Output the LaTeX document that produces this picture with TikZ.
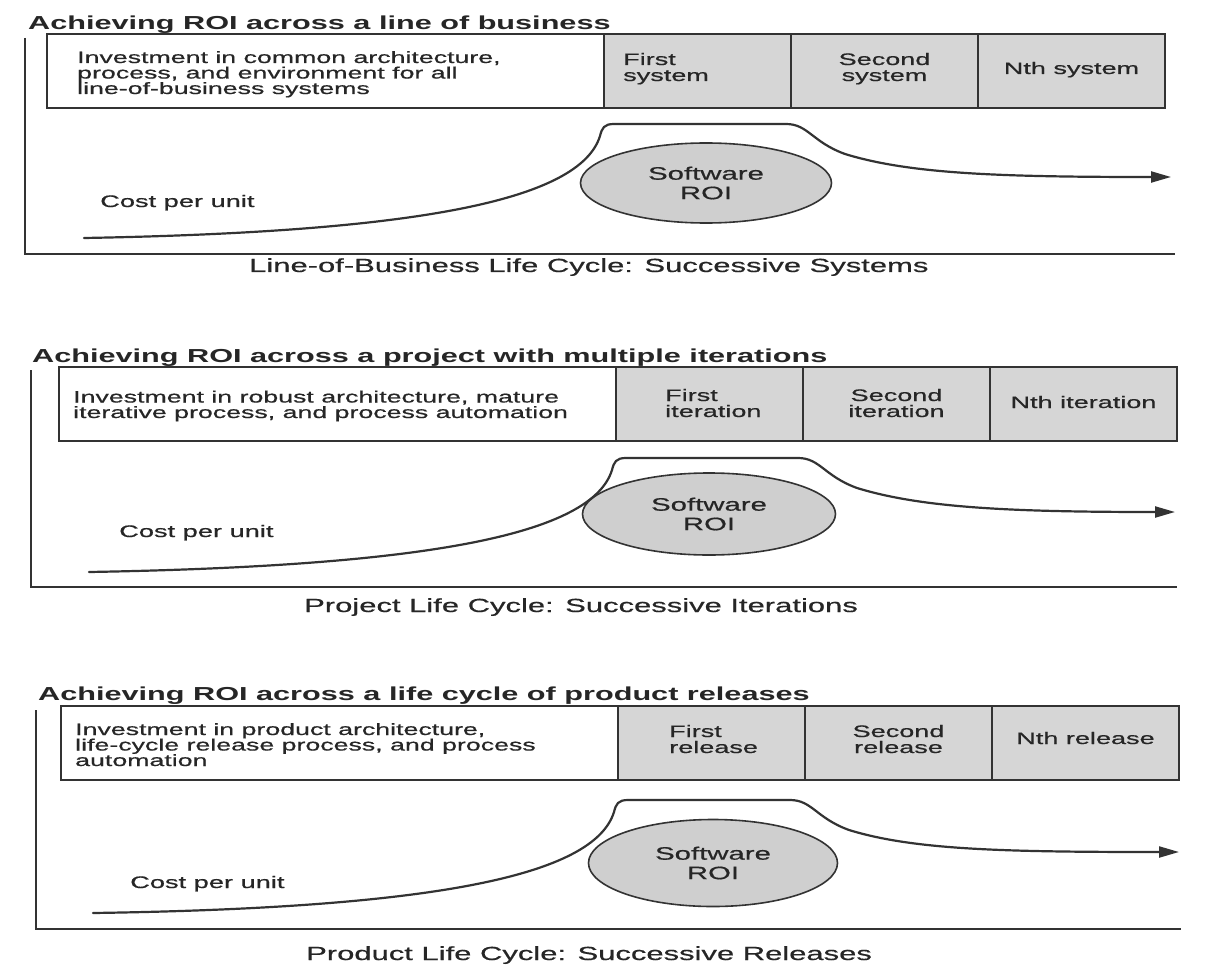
\documentclass[tikz,border=0pt]{standalone}
\usepackage{fontspec}
\setmainfont[FakeStretch=1.63, UprightFeatures={FakeBold=0.6}]{Liberation Sans}
\usetikzlibrary{shapes.geometric,arrows.meta}
\definecolor{ink}{HTML}{262626}
\definecolor{rule}{HTML}{333333}
\definecolor{cellgray}{HTML}{D6D6D6}
\definecolor{ellgray}{HTML}{CFCFCF}
% multi-line nodes are anchored at the baseline of their last line
\tikzset{
  ttl/.style={font={\bfseries\fontsize{18.8}{20}\selectfont}, anchor=base west, inner sep=0pt, text=ink},
  bodytxt/.style={font={\fontsize{16.4}{15.5}\selectfont\lineskiplimit-20pt}, align=left, anchor=base west, inner sep=0pt, text=ink},
  celltxt/.style={font={\fontsize{16.6}{16}\selectfont\lineskiplimit-20pt}, inner sep=0pt, text=ink},
  costtxt/.style={font={\fontsize{16.7}{18}\selectfont}, anchor=base west, inner sep=0pt, text=ink},
  captxt/.style={font={\fontsize{19}{20}\selectfont}, anchor=base west, inner sep=0pt, text=ink},
  invbox/.style={draw=rule, line width=1.6pt, fill=white},
  phasebox/.style={draw=rule, line width=1.6pt, fill=cellgray},
  roiell/.style={ellipse, draw=rule, line width=1.6pt, fill=ellgray, inner sep=0pt,
     align=center, text=ink, font={\fontsize{18}{19.5}\selectfont\lineskiplimit-20pt}},
  axes/.style={draw=rule, line width=1.7pt},
  costcurve/.style={draw=rule, line width=2.2pt, line cap=round,
     -{Triangle[length=20pt,width=11pt]}}
}
\begin{document}
\begin{tikzpicture}[x=1pt,y=-1pt]
\useasboundingbox[fill=white] (0,0) rectangle (1217,968);

% ---------- Line of business ----------
\node[ttl] (t1) at (28,30) {Achieving ROI across a line of business};
\draw[axes] (25,38) |- (1175,254);
\draw[invbox] (47,34) rectangle (604,108);
\draw[phasebox] (604,34) rectangle (791,108);
\draw[phasebox] (791,34) rectangle (978,108);
\draw[phasebox] (978,34) rectangle (1165,108);
\node[bodytxt] (i1) at (77,94) {Investment in common architecture,\\process, and environment for all\\line-of-business systems};
\node[celltxt, anchor=base west, align=left] (a1) at (623,81) {First\\system};
\node[celltxt, anchor=base, align=center] (b1) at (884.5,81) {Second\\system};
\node[celltxt, anchor=base] (n1) at (1071.5,74) {Nth system};
\node[costtxt] (k1) at (100,207) {Cost per unit};
\node[roiell, minimum width=251pt, minimum height=80pt] (r1) at (706,183) {Software\\ROI};
\coordinate (s1) at (84,238);
\coordinate (e1) at (1171,177);
\draw[costcurve] (s1) .. controls (420,232) and (580,200) .. (600,136)
   .. controls (602,128) and (604,124) .. (614,124) -- (786,124)
   .. controls (808,124) and (812,142) .. (845,154)
   .. controls (910,174) and (1000,177) .. (e1);
\node[captxt] (c1) at (249,272) {Line-of-Business Life Cycle: Successive Systems};

% ---------- Project with iterations ----------
\node[ttl] (t2) at (32,362) {Achieving ROI across a project with multiple iterations};
\draw[axes] (31,370) |- (1177,587);
\draw[invbox] (59,367) rectangle (616,441);
\draw[phasebox] (616,367) rectangle (803,441);
\draw[phasebox] (803,367) rectangle (990,441);
\draw[phasebox] (990,367) rectangle (1177,441);
\node[bodytxt] (i2) at (73,418) {Investment in robust architecture, mature\\iterative process, and process automation};
\node[celltxt, anchor=base west, align=left] (a2) at (665,417) {First\\iteration};
\node[celltxt, anchor=base, align=center] (b2) at (896.5,417) {Second\\iteration};
\node[celltxt, anchor=base] (n2) at (1083.5,408) {Nth iteration};
\node[costtxt] (k2) at (119,537) {Cost per unit};
\node[roiell, minimum width=253pt, minimum height=82pt] (r2) at (709,514) {Software\\ROI};
\coordinate (s2) at (89,572);
\coordinate (e2) at (1175,512);
\draw[costcurve] (s2) .. controls (432,566) and (592,534) .. (612,470)
   .. controls (614,462) and (616,458) .. (626,458) -- (798,458)
   .. controls (820,458) and (824,476) .. (857,488)
   .. controls (922,508) and (1012,512) .. (e2);
\node[captxt] (c2) at (304,612) {Project Life Cycle: Successive Iterations};

% ---------- Product releases ----------
\node[ttl] (t3) at (38,700) {Achieving ROI across a life cycle of product releases};
\draw[axes] (36,710) |- (1181,929);
\draw[invbox] (61,706) rectangle (618,780);
\draw[phasebox] (618,706) rectangle (805,780);
\draw[phasebox] (805,706) rectangle (992,780);
\draw[phasebox] (992,706) rectangle (1179,780);
\node[bodytxt] (i3) at (75,766) {Investment in product architecture,\\life-cycle release process, and process\\automation};
\node[celltxt, anchor=base west, align=left] (a3) at (669,753) {First\\release};
\node[celltxt, anchor=base, align=center] (b3) at (898.5,753) {Second\\release};
\node[celltxt, anchor=base] (n3) at (1085.5,744) {Nth release};
\node[costtxt] (k3) at (130,888) {Cost per unit};
\node[roiell, minimum width=249pt, minimum height=87pt] (r3) at (713,863) {Software\\ROI};
\coordinate (s3) at (93,913);
\coordinate (e3) at (1179,852);
\draw[costcurve] (s3) .. controls (434,908) and (594,876) .. (614,812)
   .. controls (616,804) and (618,800) .. (628,800) -- (790,800)
   .. controls (812,800) and (816,818) .. (849,830)
   .. controls (914,850) and (1004,852) .. (e3);
\node[captxt] (c3) at (306,960) {Product Life Cycle: Successive Releases};
\end{tikzpicture}
\end{document}
